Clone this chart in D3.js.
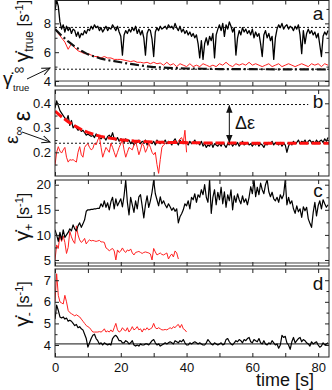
<!DOCTYPE html>
<html><head><meta charset="utf-8">
<script src="https://cdn.jsdelivr.net/npm/d3@7"></script>
<style>body{margin:0;background:#fff}svg{display:block}text{font-family:"Liberation Sans",Arial,sans-serif;fill:#111}</style>
</head><body><svg id="c" width="332" height="390"></svg>
<script>
// ---------- DATA ----------
const dtFine = 0.5;   // sampling step (s) of the fine traces
const dtCoarse = 1.0; // sampling step (s) of the coarse red trace in panel a

const xTicksLabeled = [0, 20, 40, 60, 80];

// panel a: shear rate gamma_true
const aBlack = [
 8.9,9.6,9.2,8.1,7.6,7.9,7.4,7.8,7.5,7.7,
 7.3,7.6,7.5,7.1,7.4,7.0,7.3,7.2,7.5,7.3,
 7.6,7.5,7.8,7.6,7.9,7.7,7.8,7.5,7.7,7.4,
 7.6,7.8,7.5,7.7,7.6,7.9,7.7,7.5,7.8,7.4,
 7.1,5.8,7.2,7.5,7.3,7.6,7.4,7.7,7.5,7.8,
 7.3,7.6,7.2,7.5,7.0,5.8,7.3,7.6,7.5,6.9,
 5.7,7.4,7.7,7.5,7.8,7.6,7.7,7.8,7.6,7.9,
 7.7,7.8,7.6,8.0,7.7,7.5,7.8,7.4,7.6,7.3,
 7.5,7.2,7.4,7.1,7.3,7.0,7.2,6.6,5.6,6.8,
 5.5,6.6,7.0,6.5,7.1,6.8,7.3,5.6,7.2,7.6,
 7.9,7.5,8.0,7.1,7.9,7.6,8.1,7.8,7.4,7.7,
 5.8,7.0,7.5,7.2,7.7,7.4,7.6,7.3,7.5,7.2,
 7.6,7.0,7.4,7.1,7.3,6.6,5.7,7.2,7.5,7.0,
 7.3,6.8,7.1,5.5,7.0,7.6,7.9,7.7,8.0,7.6,
 7.8,7.9,7.6,7.8,7.7,7.5,7.8,7.6,7.9,7.2,
 5.9,7.5,6.6,7.3,7.6,7.3,7.5,7.2,7.4,7.0,
 7.3,6.5,5.7,7.1,7.4,7.2,7.5];
const aRed = [
 7.6,7.3,7.0,6.7,6.2,6.6,6.3,6.1,6.0,5.9,
 5.9,5.8,5.7,5.7,5.6,5.7,5.6,5.6,5.5,5.5,
 5.5,5.45,5.4,5.35,5.4,5.3,5.3,5.25,5.3,5.2,
 5.3,5.2,5.25,5.1,5.3,5.1,5.2,5.0,5.2,5.1,
 5.0,5.2,5.0,5.1,5.0,5.2,5.1,5.0,5.1,5.0,
 5.2,5.1,5.3,5.1,5.0,5.2,5.1,5.2,5.1,5.3,
 5.1,5.2,5.1,5.0,5.1,5.2,5.0,5.1,5.2,5.0,
 5.1,5.2,5.1,5.0,5.1,5.2,5.1,5.0,5.2,5.1,
 5.2,5.0,5.2,5.1];
const aFitT = [0,2,4,6,8,10,12,14,16,18,20,22,24,26,28,30,33,36,40,45,50,60,70,83.3];
const aFitV = [7.6,7.15,6.75,6.4,6.1,5.85,5.7,5.55,5.45,5.38,5.3,5.22,5.15,5.08,5.02,4.97,4.93,4.9,4.87,4.85,4.83,4.82,4.81,4.8];
const aMean = 7.72, aInf = 4.82, aBase = 4.0;
const aTicksLabeled = [4, 6, 8];
const aTicksMinor = [5, 7, 9];

// panel b: strain epsilon
const bBlack = [
 0.38,0.41,0.39,0.37,0.36,0.35,0.34,0.33,0.35,0.31,
 0.33,0.30,0.31,0.30,0.29,0.295,0.285,0.29,0.28,0.27,
 0.275,0.27,0.265,0.27,0.26,0.275,0.265,0.26,0.255,0.265,
 0.26,0.25,0.265,0.27,0.26,0.28,0.255,0.25,0.26,0.245,
 0.255,0.25,0.24,0.255,0.245,0.25,0.235,0.245,0.23,0.245,
 0.24,0.25,0.235,0.245,0.24,0.25,0.23,0.245,0.24,0.235,
 0.245,0.23,0.25,0.24,0.235,0.245,0.24,0.25,0.235,0.245,
 0.24,0.23,0.245,0.255,0.24,0.23,0.25,0.24,0.235,0.245,
 0.24,0.23,0.245,0.235,0.24,0.25,0.235,0.24,0.23,0.245,
 0.225,0.235,0.22,0.23,0.225,0.24,0.22,0.235,0.23,0.225,
 0.235,0.225,0.24,0.23,0.22,0.235,0.23,0.24,0.225,0.235,
 0.23,0.24,0.225,0.235,0.245,0.23,0.235,0.24,0.23,0.235,
 0.225,0.235,0.23,0.24,0.225,0.235,0.23,0.22,0.235,0.23,
 0.24,0.235,0.245,0.23,0.24,0.235,0.23,0.24,0.225,0.235,
 0.23,0.2,0.225,0.24,0.23,0.245,0.235,0.24,0.25,0.235,
 0.245,0.24,0.25,0.235,0.245,0.25,0.24,0.245,0.235,0.25,
 0.24,0.245,0.25,0.24,0.255,0.245,0.26];
const bRed = [
 0.148,0.20,0.223,0.205,0.197,0.21,0.22,0.18,0.16,0.17,
 0.168,0.17,0.165,0.16,0.2,0.223,0.19,0.18,0.22,0.23,
 0.235,0.22,0.21,0.215,0.237,0.23,0.25,0.264,0.22,0.18,
 0.2,0.22,0.21,0.2,0.237,0.22,0.2,0.18,0.2,0.22,
 0.235,0.25,0.21,0.18,0.2,0.22,0.215,0.21,0.23,0.245,
 0.22,0.19,0.21,0.237,0.225,0.2,0.215,0.237,0.22,0.2,
 0.19,0.2,0.15,0.114,0.17,0.22,0.23,0.235,0.24,0.235,
 0.245,0.235,0.24,0.25,0.235,0.245,0.255,0.26,0.24,0.29,
 0.2];
const bFitT = [0,2,4,6,8,10,12,14,16,18,20,24,28,32,36,40,50,60,70,83.3];
const bFitV = [0.368,0.345,0.325,0.308,0.293,0.281,0.272,0.265,0.259,0.255,0.251,0.246,0.243,0.241,0.24,0.239,0.238,0.237,0.237,0.237];
const bTop = 0.395, bInf = 0.237;
const bTicksLabeled = [0.2, 0.3, 0.4];
const bTicksMinor = [0.15, 0.25, 0.35];

// panel c: gamma_plus
const cBlack = [
 11,10,8.7,10.5,9,11,9.5,10,10.5,11.2,
 10.8,12,11.2,10.8,11.8,12.4,11.5,12.2,13,14.7,
 15,15,15.1,15.1,15.2,15.2,15.3,15.3,16.2,15.6,
 16.8,15.5,16.4,15,16.6,17.5,15.2,17.2,15.8,16.5,
 17.2,15.6,17.8,20.9,16.5,14,17.5,16,14.5,16.8,
 15.2,17.6,18,15.8,13.4,16,17.8,15.5,16.8,18.5,
 20.9,18.2,17,15.8,17.6,16.2,16.8,16,15.4,16.2,
 15.6,14.9,15.4,14.7,15.2,12.4,13.6,14.2,15,16.2,
 15.8,16.8,15.2,17.5,17,18.2,16.5,18,17.5,19,
 18,20,17.5,16.5,21,14.3,17.5,19,16,18.5,
 17,19.5,16.2,18.6,15.5,18,16.8,19,15,17.8,
 16.5,18.2,17,16.2,17.8,16.5,17.2,16,17.5,19.6,
 18.2,21,17.6,19.5,18,20.3,19,18.2,20,21,
 18.6,17.6,18.5,17.2,16.8,17.5,16.5,18,17.2,18,
 21,16,17.5,16.2,16.8,15.2,14.3,15.8,14.6,15.2,
 13.5,15.6,14.8,15.5,13.2,12.3,11.5,14.5,16.5,13.8,
 15.8,16.8,15.2,17,16.2,15.5,16];
const cRed = [
 5,8,7.3,10,8.7,9.8,8.5,6.3,7.5,10.7,
 9.6,8.8,8.3,11.8,10,9,8.5,8.8,9.3,8.2,
 8.7,9,8.8,8.9,8.8,8.7,8.8,8.9,8.6,8.6,
 8.5,7.4,7.2,6.8,7.1,7.3,6.8,5,7,6.5,
 6.8,7.4,6.8,6.5,7,6.8,7.2,6.4,6,6.5,
 6.6,6.7,6.5,6.3,6.5,6.6,6.5,6.4,6.2,5,
 7.3,6.6,6,6.2,6.4,6.1,6,6.2,6.4,5.2,
 5.8,6.2,5.6,6.8,6.4,5.2];
const cTicksLabeled = [5, 10, 15, 20];
const cTicksMinor = [7.5, 12.5, 17.5];

// panel d: gamma_minus
const dBlack = [
 5.2,5.85,5.6,5.3,5.25,5.3,5.2,5.25,5.1,5.15,
 5.1,5.0,4.9,4.95,4.8,4.85,4.75,4.7,4.5,4.3,
 3.9,4.1,4.3,4.45,4.5,4.3,4.2,4.05,4.1,4.0,
 4.1,4.05,4.0,4.05,4.0,4.3,4.4,4.45,4.35,4.2,
 4.2,4.1,4.1,4.2,4.15,4.05,4.1,4.2,4.0,3.95,
 4.0,3.95,4.05,4.0,4.0,4.05,4.05,4.0,4.1,4.2,
 4.25,4.1,4.0,4.05,3.95,4.0,4.05,4.1,4.05,4.1,
 4.15,4.1,4.05,4.2,4.15,4.1,4.2,4.15,4.25,4.1,
 4.0,4.0,4.1,4.05,4.1,4.15,4.1,4.05,4.1,4.05,
 4.0,4.0,4.1,4.25,4.15,4.05,4.0,4.1,4.05,4.0,
 4.05,4.1,4.0,4.05,4.25,4.3,4.15,4.05,4.0,4.1,
 4.2,4.15,4.25,4.2,4.1,4.25,4.2,4.3,4.35,4.15,
 4.1,4.25,4.2,4.15,4.3,4.1,4.05,4.2,4.05,4.0,
 4.1,4.05,4.2,4.1,4.0,4.05,3.85,4.0,4.45,4.35,
 4.4,4.1,4.0,3.8,4.15,4.35,4.1,4.2,4.3,4.35,
 4.15,4.25,4.2,4.1,4.05,3.95,4.15,4.05,4.1,4.15,
 4.0,3.9,3.95,4.1,4.0,4.05,4.1];
const dRed = [
 6.0,7.3,6.3,6.0,5.95,5.9,6.3,6.0,5.6,5.5,
 5.45,5.4,5.35,5.4,5.35,5.3,5.2,5.1,5.0,4.9,
 4.85,4.8,4.7,4.6,4.6,4.6,4.6,4.62,4.6,4.65,
 4.75,4.6,4.65,4.6,4.7,4.6,4.8,5.0,4.7,4.6,
 4.65,4.8,4.7,4.65,4.8,4.6,4.7,4.85,4.7,4.75,
 4.85,4.7,4.75,4.6,4.75,4.7,4.8,4.7,4.75,4.8,
 5.0,4.8,4.75,4.8,4.75,4.7,4.7,4.72,4.7,4.75,
 4.8,4.75,4.85,4.8,4.9,4.95,4.8,4.95,4.75,4.7,
 4.6];
const dBase = 4.05;
const dTicksLabeled = [4, 5, 6, 7];
const dTicksMinor = [4.5, 5.5, 6.5];

// ---------- LAYOUT ----------
const svg = d3.select("#c");
const L = 55, R = 329;
const x = d3.scaleLinear().domain([0, 83.3]).range([L, R]);
const xMinor = [10, 30, 50, 70];
const defs = svg.append("defs");

defs.append("marker").attr("id","openArrow").attr("viewBox","0 0 10 10").attr("refX",9).attr("refY",5)
  .attr("markerWidth",9).attr("markerHeight",9).attr("orient","auto").attr("markerUnits","userSpaceOnUse")
  .append("path").attr("d","M0,1 L9,5 L0,9").attr("fill","none").attr("stroke","#111").attr("stroke-width",1.1);
defs.append("marker").attr("id","solidArrow").attr("viewBox","0 0 10 10").attr("refX",9).attr("refY",5)
  .attr("markerWidth",8).attr("markerHeight",8).attr("orient","auto-start-reverse").attr("markerUnits","userSpaceOnUse")
  .append("path").attr("d","M0,1 L10,5 L0,9 Z").attr("fill","#111");

function makePanel(id, top, bottom, domain, labeled, minor, fmt, showX) {
  const y = d3.scaleLinear().domain(domain).range([bottom, top]);
  const g = svg.append("g");
  defs.append("clipPath").attr("id","clip"+id).append("rect")
    .attr("x",L).attr("y",top).attr("width",R-L).attr("height",bottom-top);
  const plot = g.append("g").attr("clip-path","url(#clip"+id+")");
  const tick = (axis, tr) => {
    const a = g.append("g").attr("transform", tr).call(axis);
    a.select(".domain").remove();
    a.selectAll("line").attr("stroke","#222");
    a.selectAll("text").style("font-size","13px").attr("fill","#111").style("font-family",'"Liberation Sans",Arial,sans-serif');
    return a;
  };
  tick(d3.axisBottom(x).tickValues(xTicksLabeled.concat(xMinor)).tickSize(-4).tickFormat(""), `translate(0,${bottom})`);
  tick(d3.axisTop(x).tickValues(xTicksLabeled.concat(xMinor)).tickSize(-4).tickFormat(""), `translate(0,${top})`);
  tick(d3.axisLeft(y).tickValues(labeled).tickSize(-4).tickPadding(4).tickFormat(fmt), `translate(${L},0)`);
  tick(d3.axisLeft(y).tickValues(minor).tickSize(-2.5).tickFormat(""), `translate(${L},0)`);
  tick(d3.axisRight(y).tickValues(labeled).tickSize(-4).tickFormat(""), `translate(${R},0)`);
  tick(d3.axisRight(y).tickValues(minor).tickSize(-2.5).tickFormat(""), `translate(${R},0)`);
  if (showX) {
    tick(d3.axisBottom(x).tickValues(xTicksLabeled).tickSize(0).tickPadding(6).tickFormat(d3.format("d")), `translate(0,${bottom})`);
  }
  g.append("rect").attr("x",L).attr("y",top).attr("width",R-L).attr("height",bottom-top)
    .attr("fill","none").attr("stroke","#222").attr("stroke-width",1);
  return {y, plot, g};
}

const lineIdx = (y, dt) => d3.line().x((d,i)=>x(i*dt)).y(d=>y(d));
const lineTV = (y, T) => d3.line().x((d,i)=>x(T[i])).y(d=>y(d));
function hline(p, v, x0, x1, style) {
  const l = p.plot.append("line").attr("x1",x(x0)).attr("x2",x(x1)).attr("y1",p.y(v)).attr("y2",p.y(v));
  for (const k in style) l.attr(k, style[k]);
}
const dotted = {stroke:"#111","stroke-width":1,"stroke-dasharray":"2,2"};

// ----- panel a -----
const pa = makePanel("a", 0.5, 86, [3.655, 9.586], aTicksLabeled, aTicksMinor, d3.format("d"), false);
hline(pa, aBase, 0, 83.3, {stroke:"#444","stroke-width":1});
hline(pa, aMean, 0, 83.3, dotted);
hline(pa, aInf, 0, 83.3, dotted);
pa.plot.append("path").attr("d", lineIdx(pa.y, dtCoarse)(aRed)).attr("fill","none").attr("stroke","#ff2020").attr("stroke-width",1);
pa.plot.append("path").attr("d", lineTV(pa.y, aFitT)(aFitV)).attr("fill","none").attr("stroke","#111").attr("stroke-width",2.2).attr("stroke-dasharray","9,3,2,3");
pa.plot.append("path").attr("d", lineIdx(pa.y, dtFine)(aBlack)).attr("fill","none").attr("stroke","#000").attr("stroke-width",1.3).attr("stroke-linejoin","round");

// ----- panel b -----
const pb = makePanel("b", 90, 176, [0.1033, 0.4543], bTicksLabeled, bTicksMinor, d3.format(".1f"), false);
hline(pb, bTop, 0, 77, dotted);
hline(pb, bInf, 0, 83.3, dotted);
pb.plot.append("path").attr("d", lineIdx(pb.y, dtFine)(bBlack)).attr("fill","none").attr("stroke","#000").attr("stroke-width",1.2).attr("stroke-linejoin","round");
pb.plot.append("path").attr("d", lineIdx(pb.y, dtFine)(bRed)).attr("fill","none").attr("stroke","#ff2020").attr("stroke-width",1);
pb.plot.append("path").attr("d", lineTV(pb.y, bFitT)(bFitV)).attr("fill","none").attr("stroke","#ff1010").attr("stroke-width",3).attr("stroke-dasharray","9,3");

// ----- panel c -----
const pc = makePanel("c", 180, 266, [3.8, 20.94], cTicksLabeled, cTicksMinor, d3.format("d"), false);
hline(pc, 4.4, 0, 83.3, {stroke:"#444","stroke-width":1});
pc.plot.append("path").attr("d", lineIdx(pc.y, dtFine)(cRed)).attr("fill","none").attr("stroke","#ff2020").attr("stroke-width",1);
pc.plot.append("path").attr("d", lineIdx(pc.y, dtFine)(cBlack)).attr("fill","none").attr("stroke","#000").attr("stroke-width",1.2).attr("stroke-linejoin","round");

// ----- panel d -----
const pd = makePanel("d", 269, 357, [3.444, 7.52], dTicksLabeled, dTicksMinor, d3.format("d"), true);
hline(pd, dBase, 0, 83.3, {stroke:"#111","stroke-width":1});
pd.plot.append("path").attr("d", lineIdx(pd.y, dtFine)(dRed)).attr("fill","none").attr("stroke","#ff2020").attr("stroke-width",1);
pd.plot.append("path").attr("d", lineIdx(pd.y, dtFine)(dBlack)).attr("fill","none").attr("stroke","#000").attr("stroke-width",1.2).attr("stroke-linejoin","round");

// ----- annotations -----
const T = (s, xx, yy, size, extra) => {
  const t = svg.append("text").attr("x",xx).attr("y",yy).style("font-size",size+"px").text(s);
  if (extra) for (const k in extra) t.attr(k, extra[k]);
  return t;
};
T("a", 318, 20, 19, {"text-anchor":"middle"});
T("b", 318, 108, 19, {"text-anchor":"middle"});
T("c", 318, 197, 19, {"text-anchor":"middle"});
T("d", 318, 290, 19, {"text-anchor":"middle"});
T("time [s]", 285, 386, 18, {"text-anchor":"middle"});

function ylab(cx, cy, main, sub, subShift) {
  const t = svg.append("text").attr("transform",`translate(${cx},${cy}) rotate(-90)`).attr("text-anchor","middle");
  t.append("tspan").style("font-size","21px").text(main);
  t.append("tspan").style("font-size","12px").attr("dy", subShift).text(sub);
  t.append("tspan").style("font-size","16px").attr("dy", -subShift).text(" [s");
  t.append("tspan").style("font-size","11px").attr("dy",-6).text("-1");
  t.append("tspan").style("font-size","16px").attr("dy",6).text("]");
}
ylab(29, 31, "γ\u0307", "true", 4);
ylab(29, 217, "γ\u0307", "+", 4);
ylab(29, 304, "γ\u0307", "-", 4);

svg.append("text").attr("transform","translate(30,116) rotate(-90)").attr("text-anchor","middle").style("font-size","23px").text("ε");
{
  const t = svg.append("text").attr("transform","translate(18,144) rotate(-90)");
  t.append("tspan").style("font-size","19px").text("ε");
  t.append("tspan").style("font-size","13px").attr("dy",5).text("∞");
}
svg.append("line").attr("x1",22).attr("y1",132).attr("x2",50).attr("y2",142).attr("stroke","#111").attr("stroke-width",1).attr("marker-end","url(#openArrow)");

T("γ\u0307", 3, 85, 19);
T("∞", 14, 74, 14);
T("true", 13, 91, 9.5);
svg.append("line").attr("x1",27).attr("y1",79).attr("x2",50).attr("y2",68).attr("stroke","#111").attr("stroke-width",1).attr("marker-end","url(#openArrow)");

svg.append("line").attr("x1",x(53)).attr("x2",x(53)).attr("y1",pb.y(bTop)+1).attr("y2",pb.y(bInf)-1)
  .attr("stroke","#111").attr("stroke-width",1).attr("marker-start","url(#solidArrow)").attr("marker-end","url(#solidArrow)");
T("Δε", 235, 129, 18);
</script></body></html>
